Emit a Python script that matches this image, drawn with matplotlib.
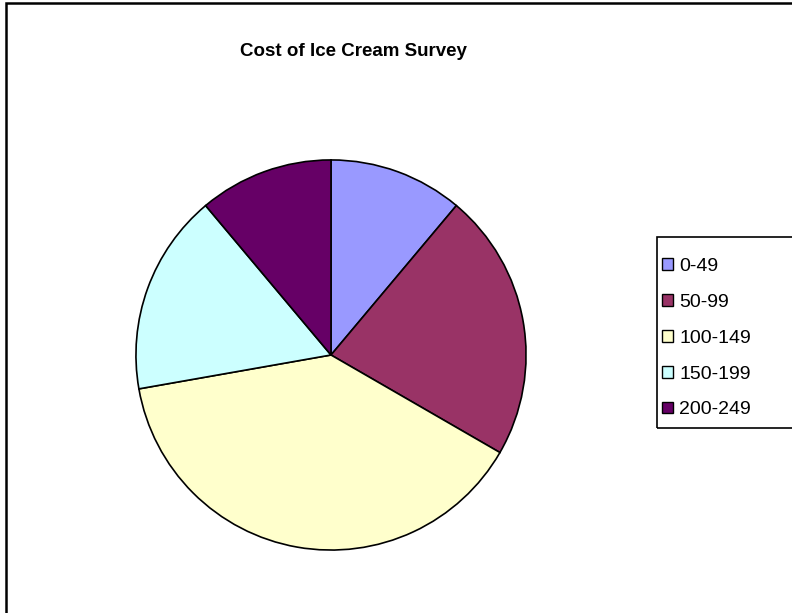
import matplotlib
matplotlib.use('Agg')
import matplotlib.pyplot as plt
from matplotlib.patches import Patch, Rectangle

plt.rcParams['font.family'] = ['Liberation Sans', 'DejaVu Sans']

# survey counts per price band
labels = ['0-49', '50-99', '100-149', '150-199', '200-249']
counts = [2, 4, 7, 3, 2]
colors = ['#9999FF', '#993366', '#FFFFCC', '#CCFFFF', '#660066']

W, H = 792, 613
fig = plt.figure(figsize=(W/100., H/100.), dpi=100)

# chart area border (only left and top show, the rest is cropped)
fig.patches.append(Rectangle((6./W, -0.05), 1.1, 1 - 3./H + 0.05,
                             transform=fig.transFigure, fill=False,
                             edgecolor='black', linewidth=1.8))

cx, cy, r = 331, 355, 197
ax = fig.add_axes([(cx - r)/W, (H - cy - r)/H, 2*r/W, 2*r/H])
wedges, _ = ax.pie(counts, colors=colors, startangle=90, counterclock=False,
                   wedgeprops=dict(edgecolor='black', linewidth=1.2))
ax.set_xlim(-1.01, 1.01)
ax.set_ylim(-1.01, 1.01)
ax.set_aspect('auto')
ax.axis('off')

fig.text(353./W, 1 - 52./H, 'Cost of Ice Cream Survey', ha='center',
         va='center', fontsize=13.5, fontweight='bold')

# legend box runs off the right edge
fig.patches.append(Rectangle((657./W, 1 - 428./H), 0.3, (428. - 237.)/H,
                             transform=fig.transFigure, fill=False,
                             edgecolor='black', linewidth=1.2))
handles = [Patch(facecolor=c, edgecolor='black', linewidth=1) for c in colors]
leg = fig.legend(handles, labels, loc='upper left',
                 bbox_to_anchor=(662./W, 1 - 258./H), fontsize=14,
                 frameon=False, handlelength=0.55, handleheight=0.55,
                 handletextpad=0.35, labelspacing=0.97, borderpad=0,
                 borderaxespad=0)

fig.savefig('out.png', dpi=100, facecolor='white')
